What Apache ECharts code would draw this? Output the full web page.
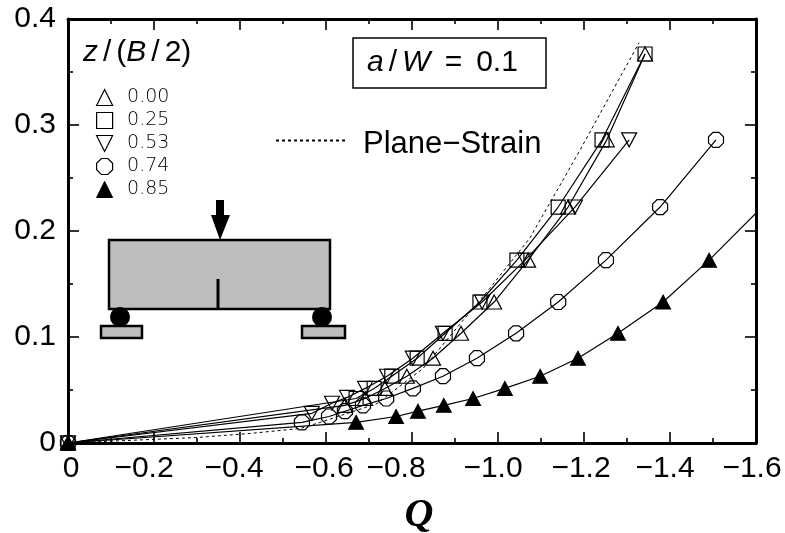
<!DOCTYPE html>
<html><head><meta charset="utf-8">
<style>html,body{margin:0;padding:0;background:#fff}#c{width:785px;height:533px}</style>
<script src="https://cdn.jsdelivr.net/npm/echarts@6/dist/echarts.min.js"></script>
</head><body><div id="c"></div>
<script>
// Q (x) and J-ratio (y) values per z/(B/2) location
const triQ   = [0,-0.644,-0.691,-0.737,-0.788,-0.849,-0.914,-0.991,-1.070,-1.163,-1.253,-1.342];
const triY   = [0,0.0355,0.042,0.0515,0.063,0.080,0.1035,0.133,0.1725,0.2226,0.286,0.367];
const sqQ    = [0,-0.670,-0.712,-0.753,-0.812,-0.877,-0.958,-1.044,-1.140,-1.242,-1.342];
const sqY    = [0,0.042,0.0515,0.063,0.080,0.1035,0.133,0.1725,0.2226,0.286,0.367];
const invQ   = [0,-0.567,-0.614,-0.649,-0.691,-0.742,-0.802,-0.872,-0.963,-1.063,-1.179,-1.305];
const invY   = [0,0.028,0.0375,0.043,0.0515,0.063,0.080,0.1035,0.133,0.1725,0.2226,0.286];
const octQ   = [0,-0.544,-0.607,-0.644,-0.686,-0.740,-0.802,-0.872,-0.951,-1.042,-1.140,-1.251,-1.377,-1.507];
const octY   = [0,0.0195,0.025,0.030,0.0355,0.042,0.0515,0.063,0.080,0.1035,0.133,0.1725,0.2226,0.286];
const solQ   = [0,-0.670,-0.763,-0.814,-0.874,-0.942,-1.016,-1.098,-1.186,-1.279,-1.384,-1.491,-1.614];
const solY   = [0,0.0195,0.025,0.030,0.0355,0.042,0.0515,0.063,0.080,0.1035,0.133,0.1725,0.2226];
const psQ    = [0,-0.191,-0.300,-0.423,-0.540,-0.586,-0.719,-0.826,-0.919,-0.981,-1.074,-1.191,-1.328];
const psY    = [0,0.0033,0.0052,0.009,0.0137,0.0194,0.0373,0.0704,0.1158,0.146,0.1933,0.2765,0.3776];
const zNames = ['0.00','0.25','0.53','0.74','0.85'];
const psName = 'Plane\u2212Strain';

const zip=(a,b)=>a.map((v,i)=>[v,b[i]]);
const TRI='path://M50,0L100,100L0,100Z';
const INV='path://M0,0L100,0L50,100Z';
const OCT='path://M30,0L70,0L100,30L100,70L70,100L30,100L0,70L0,30Z';
const SQ='path://M0,0L100,0L100,100L0,100Z';
const FONT='"Liberation Sans",Arial,sans-serif';
const INK='#000';
const hollow={color:'transparent',borderColor:'#000',borderWidth:1.2};
const solid={color:'#000',borderColor:'#000',borderWidth:1};
const ser=(name,q,y,sym,size,item)=>({type:'line',name,data:zip(q,y),symbol:sym,symbolSize:size,showAllSymbol:true,
  lineStyle:{color:'#000',width:1.2},itemStyle:item,clip:true,animation:false,z:3});

const xShift={'-0.2':20,'-0.4':12,'-0.6':4,'-0.8':32,'-1':10,'-1.2':6,'-1.4':10,'-1.6':8};
const xRich={};Object.keys(xShift).forEach((k,i)=>{xRich['k'+i]={padding:[0,xShift[k],0,0],fontSize:30,fontFamily:FONT,color:INK}});
const xKeys=Object.keys(xShift);

const slash={padding:[0,5,0,5],fontSize:30,fontFamily:FONT,color:INK};
const plain={fontSize:30,fontFamily:FONT,color:INK};
const eq={fontSize:30,fontFamily:FONT,color:INK,padding:[0,14,0,6]};
const ital={fontSize:30,fontFamily:FONT,fontStyle:'italic',color:INK};
const legIcon={color:'#fff',borderColor:'#000',borderWidth:1.2};

const option={
  animation:false,backgroundColor:'#fff',
  grid:{left:68,right:29,top:19,bottom:90,outerBoundsMode:'none'},
  legend:[
    {orient:'vertical',left:91,top:83,itemGap:4,itemWidth:17,itemHeight:16,
     textStyle:{fontSize:19,fontFamily:'"DejaVu Sans"',color:'#000',padding:[0,0,0,9],fontWeight:200},
     data:[
      {name:zNames[0],icon:TRI,itemStyle:legIcon},
      {name:zNames[1],icon:SQ,itemStyle:legIcon},
      {name:zNames[2],icon:INV,itemStyle:legIcon},
      {name:zNames[3],icon:OCT,itemStyle:legIcon},
      {name:zNames[4],icon:TRI,itemStyle:{color:'#000',borderColor:'#000',borderWidth:1}}
     ],selectedMode:false},
    {left:270,top:124,itemWidth:70,itemHeight:6,itemGap:0,selectedMode:false,
     formatter:'{a|{name}}',
     textStyle:{rich:{a:{fontSize:31,fontFamily:FONT,color:INK,padding:[8,0,0,12]}}},
     data:[{name:psName,itemStyle:{opacity:0,color:'transparent',borderColor:'transparent'}}]}
  ],
  xAxis:[{type:'value',min:-1.6,max:0,interval:0.2,inverse:true,position:'bottom',
    axisLine:{onZero:false,lineStyle:{color:'#000',width:3}},
    axisTick:{inside:true,length:11,lineStyle:{color:'#000',width:1.6}},
    minorTick:{show:true,splitNumber:2,length:5,lineStyle:{color:'#000',width:1.6}},
    splitLine:{show:false},minorSplitLine:{show:false},
    axisLabel:{margin:11,hideOverlap:false,showMinLabel:true,showMaxLabel:true,
      formatter:v=>{const r=Math.round(v*10)/10;if(r===0)return '{z|0}';const i=xKeys.indexOf(String(r));
        const s=(r===-1)?'\u22121.0':'\u2212'+Math.abs(r).toFixed(1);return '{k'+i+'|'+s+'}';},
      rich:Object.assign({z:{padding:[0,0,0,6],fontSize:30,fontFamily:FONT,color:INK}},xRich)},
    name:'Q',nameLocation:'middle',nameGap:53,
    nameTextStyle:{fontFamily:'"Liberation Serif",serif',fontStyle:'italic',fontWeight:'bold',fontSize:40,color:INK,padding:[0,0,0,14]}
   },
   {type:'value',min:-1.6,max:0,interval:0.2,inverse:true,position:'top',
    axisLine:{onZero:false,lineStyle:{color:'#000',width:3}},
    axisTick:{inside:true,length:11,lineStyle:{color:'#000',width:1.6}},
    minorTick:{show:true,splitNumber:2,length:5,lineStyle:{color:'#000',width:1.6}},
    splitLine:{show:false},axisLabel:{show:false}}],
  yAxis:[{type:'value',min:0,max:0.4,interval:0.1,position:'left',
    axisLine:{onZero:false,lineStyle:{color:'#000',width:3}},
    axisTick:{inside:true,length:11,lineStyle:{color:'#000',width:1.6}},
    minorTick:{show:true,splitNumber:2,length:5,lineStyle:{color:'#000',width:1.6}},
    splitLine:{show:false},
    axisLabel:{margin:12,fontSize:30,fontFamily:FONT,color:INK,padding:[4,0,0,0],showMinLabel:true,showMaxLabel:true,
      formatter:v=>v===0?'0':v.toFixed(1)}},
   {type:'value',min:0,max:0.4,interval:0.1,position:'right',
    axisLine:{onZero:false,lineStyle:{color:'#000',width:3}},
    axisTick:{inside:true,length:11,lineStyle:{color:'#000',width:1.6}},
    minorTick:{show:true,splitNumber:2,length:5,lineStyle:{color:'#000',width:1.6}},
    splitLine:{show:false},axisLabel:{show:false}}],
  series:[
    ser(zNames[0],triQ,triY,TRI,[15,14],hollow),
    ser(zNames[1],sqQ,sqY,SQ,14,hollow),
    ser(zNames[2],invQ,invY,INV,[15,14],hollow),
    ser(zNames[3],octQ,octY,OCT,15,hollow),
    ser(zNames[4],solQ,solY,TRI,[15,14],solid),
    {type:'line',name:psName,data:zip(psQ,psY),symbol:'none',animation:false,z:2,
     lineStyle:{color:'#000',width:1,type:[3,3]},itemStyle:{color:'#000'}}
  ],
  graphic:[
    // a/W annotation box
    {type:'rect',shape:{x:353,y:38,width:193,height:50},style:{fill:'#fff',stroke:'#000',lineWidth:1.5},z:5},
    {type:'text',x:367,y:63,z:6,style:{text:'{i|a}{s|/}{i|W}{e| =}{p|0.1}',verticalAlign:'middle',rich:{i:ital,s:slash,p:plain,e:eq}}},
    // legend title
    {type:'text',x:83,y:53,z:6,style:{text:'{i|z}{s|/}{p|(}{i|B}{s|/}{p|2)}',verticalAlign:'middle',rich:{i:ital,s:slash,p:plain}}},
    // specimen schematic
    {type:'rect',shape:{x:109,y:240,width:221,height:69},style:{fill:'#bdbdbd',stroke:'#000',lineWidth:2.5},z:5},
    {type:'line',shape:{x1:218,y1:279,x2:218,y2:309},style:{stroke:'#000',lineWidth:3},z:6},
    {type:'rect',shape:{x:101,y:326,width:41,height:12},style:{fill:'#bdbdbd',stroke:'#000',lineWidth:2.5},z:5},
    {type:'rect',shape:{x:302,y:326,width:43,height:12},style:{fill:'#bdbdbd',stroke:'#000',lineWidth:2.5},z:5},
    {type:'circle',shape:{cx:120,cy:317,r:10},style:{fill:'#000'},z:6},
    {type:'circle',shape:{cx:322,cy:317,r:10},style:{fill:'#000'},z:6},
    {type:'polygon',shape:{points:[[216,200],[224,200],[224,215],[230,215],[220,240],[211,215],[216,215]]},style:{fill:'#000'},z:6}
  ]
};
echarts.init(document.getElementById('c'),null,{renderer:'canvas'}).setOption(option);
</script></body></html>
